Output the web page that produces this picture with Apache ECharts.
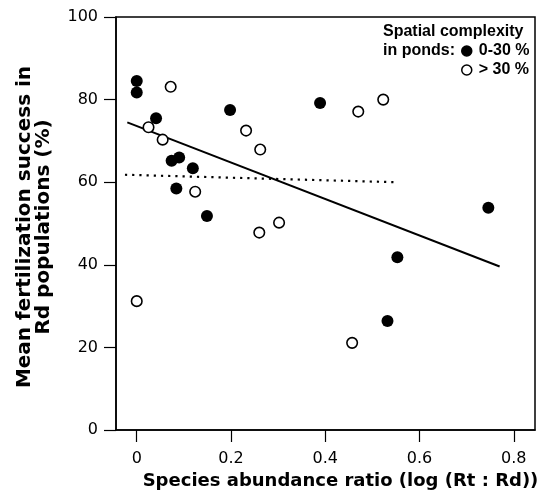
<!DOCTYPE html>
<html><head><meta charset="utf-8">
<script src="https://cdn.jsdelivr.net/npm/echarts@6/dist/echarts.min.js"></script>
<style>html,body{margin:0;padding:0;background:#fff}#c{width:545px;height:503px}</style>
</head><body><div id="c"></div>
<script>
const xTicks = [0, 0.2, 0.4, 0.6, 0.8];
const yTicks = [0, 20, 40, 60, 80, 100];
// Spatial complexity 0-30 % (filled)
const lowX = [0, 0, 0.041, 0.074, 0.090, 0.084, 0.119, 0.149, 0.198, 0.389, 0.532, 0.553, 0.746];
const lowY = [84.5, 81.7, 75.5, 65.2, 66.0, 58.5, 63.4, 51.8, 77.5, 79.2, 26.4, 41.8, 53.8];
// Spatial complexity > 30 % (open)
const highX = [0.072, 0.025, 0.055, 0.232, 0.262, 0.470, 0.523, 0.124, 0.260, 0.302, 0, 0.457];
const highY = [83.1, 73.3, 70.3, 72.5, 67.9, 77.1, 80.0, 57.7, 47.8, 50.2, 31.2, 21.1];
// regression lines
const fitSolidX = [-0.020, 0.770];
const fitSolidY = [74.5, 39.6];
const fitDottedX = [-0.025, 0.548];
const fitDottedY = [61.8, 60.0];

const zip = (a, b) => a.map((v, i) => [v, b[i]]);
const FONT = 'Liberation Sans, Arial, sans-serif';
const WIDE = 'DejaVu Sans, sans-serif';

const chart = echarts.init(document.getElementById('c'), null, {renderer: 'canvas'});
chart.setOption({
  animation: false,
  backgroundColor: '#fff',
  grid: {left: 116, right: 10, top: 17, bottom: 73, show: true, borderColor: '#000', borderWidth: 1.5, backgroundColor: 'transparent'},
  xAxis: {
    type: 'value', min: -0.044, max: 0.845,
    name: 'Species abundance ratio (log (Rt : Rd))',
    nameLocation: 'middle', nameGap: 38,
    nameTextStyle: {fontFamily: WIDE, fontWeight: 'bold', fontSize: 18, color: '#000', padding: [0, 0, 0, 30]},
    axisLine: {show: true, onZero: false, lineStyle: {color: '#000', width: 1.5}},
    axisTick: {show: true, length: 12, lineStyle: {color: '#000', width: 1.2}, customValues: xTicks},
    axisLabel: {customValues: xTicks, margin: 21, fontFamily: WIDE, fontSize: 16, color: '#000',
      formatter: v => (Math.abs(v) < 1e-9 ? '0' : v.toFixed(1))},
    splitLine: {show: false}
  },
  yAxis: {
    type: 'value', min: 0, max: 100,
    name: 'Mean fertilization success in\nRd populations (%)',
    nameLocation: 'middle', nameGap: 62, nameRotate: 90,
    nameTextStyle: {fontFamily: WIDE, fontWeight: 'bold', fontSize: 20, color: '#000', lineHeight: 19.5, padding: [0, 7, 0, 0]},
    axisLine: {show: true, onZero: false, lineStyle: {color: '#000', width: 1.5}},
    axisTick: {show: true, length: 12, lineStyle: {color: '#000', width: 1.2}, customValues: yTicks},
    axisLabel: {customValues: yTicks, margin: 18, fontFamily: WIDE, fontSize: 16, color: '#000'},
    splitLine: {show: false}
  },
  legend: {
    orient: 'vertical', left: 461, top: 43, padding: 0,
    itemWidth: 10, itemHeight: 10, itemGap: 3,
    textStyle: {fontFamily: FONT, fontWeight: 'bold', fontSize: 16, color: '#000', lineHeight: 16, padding: [0, 0, 0, 2]},
    data: [
      {name: '0-30 %', icon: 'circle', itemStyle: {color: '#000', borderColor: '#000', borderWidth: 1.5}},
      {name: '> 30 %', icon: 'circle', itemStyle: {color: '#fff', borderColor: '#000', borderWidth: 1.5}}
    ]
  },
  graphic: [
    {type: 'text', left: 383, top: 22, style: {text: 'Spatial complexity\nin ponds:', fontFamily: FONT, fontWeight: 'bold', fontSize: 16, lineHeight: 19, fill: '#000'}}
  ],
  series: [
    {type: 'line', data: zip(fitSolidX, fitSolidY), symbol: 'none', lineStyle: {color: '#000', width: 2}, silent: true, z: 1},
    {type: 'line', data: zip(fitDottedX, fitDottedY), symbol: 'none', lineStyle: {color: '#000', width: 2.2, type: [2.2, 5]}, silent: true, z: 1},
    {name: '0-30 %', type: 'scatter', data: zip(lowX, lowY), symbol: 'circle', symbolSize: 12,
      itemStyle: {color: '#000', borderColor: '#000', borderWidth: 0, opacity: 1}, z: 3},
    {name: '> 30 %', type: 'scatter', data: zip(highX, highY), symbol: 'circle', symbolSize: 10.5,
      itemStyle: {color: '#fff', borderColor: '#000', borderWidth: 1.6, opacity: 1}, z: 3}
  ]
});
</script></body></html>
